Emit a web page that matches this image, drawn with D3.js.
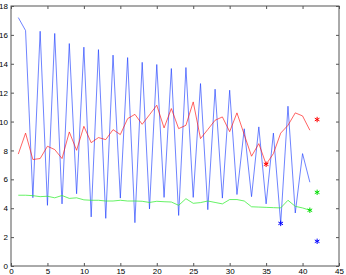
<!doctype html>
<html lang="en">
<head>
<meta charset="utf-8">
<title>Series plot</title>
<style>
  body { margin: 0; background: #fff; }
  svg { display: block; font-family: "Liberation Sans", Arial, sans-serif; }
</style>
</head>
<body>
<script src="https://cdn.jsdelivr.net/npm/d3@7"></script>
<svg></svg>
<script>

  // values, x = 1..41
  var xs = d3.range(1, 42);

  var blue = [17.2, 16.3, 4.73, 16.25, 4.2, 16.1, 4.3, 15.4, 5.0, 15.15,
              3.4, 14.98, 3.3, 14.6, 4.7, 14.43, 3.0, 14.1, 3.95, 13.95,
              4.75, 13.67, 3.5, 13.74, 4.75, 12.63, 3.9, 12.24, 4.7, 12.17,
              4.95, 9.5, 4.8, 9.63, 4.3, 9.2, 2.95, 11.06, 3.67, 7.78, 5.8];

  var red = [7.75, 9.2, 7.37, 7.44, 8.29, 8.06, 7.44, 9.28, 8.01, 9.67,
             8.54, 8.89, 8.75, 9.44, 9.1, 10.2, 10.5, 9.81, 10.47, 11.13,
             9.56, 10.9, 9.51, 9.74, 11.36, 8.82, 9.45, 10.09, 10.32, 9.3,
             10.6, 9.1, 7.6, 8.47, 7.04, 7.78, 9.2, 9.74, 10.6, 10.39, 9.4];

  var green = [4.9, 4.9, 4.87, 4.8, 4.83, 4.72, 4.88, 4.68, 4.72, 4.58,
               4.55, 4.55, 4.5, 4.5, 4.55, 4.5, 4.5, 4.48, 4.4, 4.48,
               4.45, 4.43, 4.2, 4.66, 4.34, 4.39, 4.5, 4.4, 4.3, 4.6,
               4.6, 4.5, 4.1, 4.08, 4.06, 4.04, 4.02, 4.55, 4.13, 4.02, 3.86];

  // star markers [x, y]
  var blueStars = [[37, 2.95], [42, 1.71]];
  var redStars = [[35, 7.04], [42, 10.14]];
  var greenStars = [[41, 3.86], [42, 5.1]];

  var xTicks = [0, 5, 10, 15, 20, 25, 30, 35, 40, 45];
  var yTicks = [0, 2, 4, 6, 8, 10, 12, 14, 16, 18];

  var W = 346, H = 275;
  var margin = {top: 6, right: 7, bottom: 9, left: 11};

  var svg = d3.select("svg").attr("width", W).attr("height", H);
  var width = W - margin.left - margin.right,
      height = H - margin.top - margin.bottom;
  var g = svg.append("g").attr("transform", "translate(" + margin.left + "," + margin.top + ")");

  var x = d3.scaleLinear().domain([0, 45]).range([0, width]);
  var y = d3.scaleLinear().domain([0, 18]).range([height, 0]);

  var tl = 3;
  var axisColor = "#555";

  // ticks on all four sides, pointing inward
  g.append("g")
    .attr("transform", "translate(0," + height + ")")
    .call(d3.axisBottom(x).tickValues(xTicks).tickSizeInner(-tl).tickSizeOuter(0).tickPadding(2));
  g.append("g")
    .call(d3.axisTop(x).tickValues(xTicks).tickSizeInner(-tl).tickSizeOuter(0).tickFormat(""));
  g.append("g")
    .call(d3.axisLeft(y).tickValues(yTicks).tickSizeInner(-tl).tickSizeOuter(0).tickPadding(3));
  g.append("g")
    .attr("transform", "translate(" + width + ",0)")
    .call(d3.axisRight(y).tickValues(yTicks).tickSizeInner(-tl).tickSizeOuter(0).tickFormat(""));

  g.selectAll(".domain").remove();
  g.selectAll(".tick line").attr("stroke", axisColor);
  g.selectAll(".tick text").attr("fill", "#000").style("font-size", "8px");

  g.append("rect")
    .attr("width", width).attr("height", height)
    .attr("fill", "none").attr("stroke", axisColor).attr("stroke-width", 1);

  var line = d3.line()
    .x(function(d, i) { return x(xs[i]); })
    .y(function(d) { return y(d); });

  g.append("path").datum(blue).attr("d", line)
    .attr("fill", "none").attr("stroke", "#1f3fff").attr("stroke-width", 0.65);
  g.append("path").datum(red).attr("d", line)
    .attr("fill", "none").attr("stroke", "#ff1010").attr("stroke-width", 0.65);
  g.append("path").datum(green).attr("d", line)
    .attr("fill", "none").attr("stroke", "#33ee33").attr("stroke-width", 0.75);

  var star = d3.symbol().type(d3.symbolAsterisk).size(20);

  function stars(data, color) {
    g.selectAll(null).data(data).enter().append("path")
      .attr("d", star)
      .attr("transform", function(d) { return "translate(" + x(d[0]) + "," + y(d[1]) + ")"; })
      .attr("fill", "none").attr("stroke", color).attr("stroke-width", 1);
  }
  stars(blueStars, "#0000ff");
  stars(redStars, "#ff0000");
  stars(greenStars, "#00dd00");

</script>
</body>
</html>
